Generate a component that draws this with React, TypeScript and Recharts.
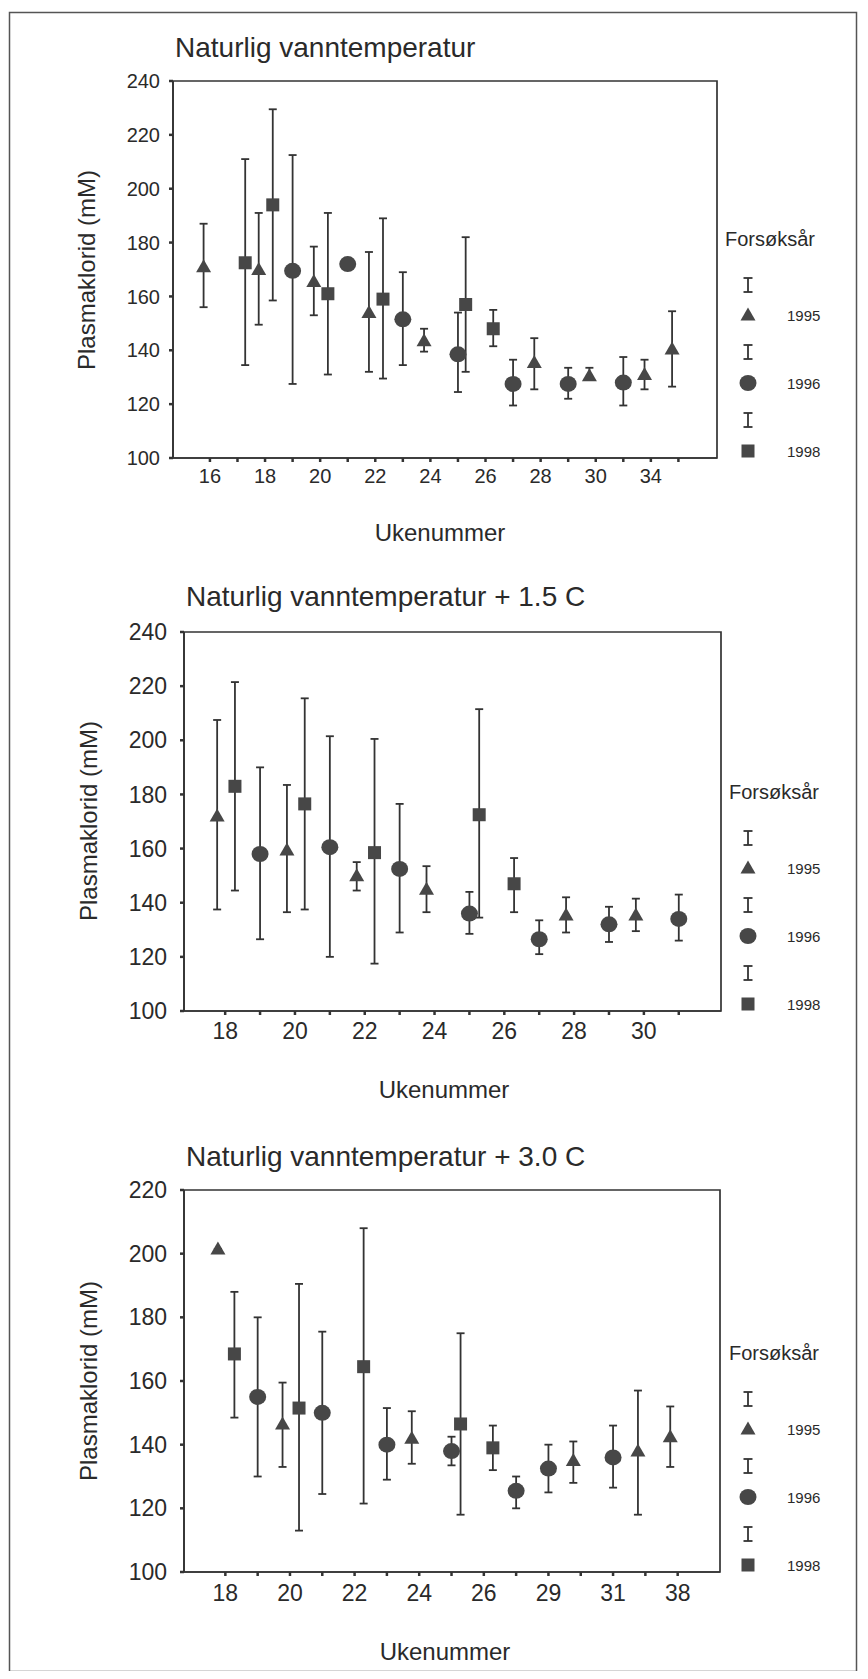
import { ScatterChart, Scatter, XAxis, YAxis, ErrorBar, ReferenceArea } from "recharts";

// ---- Panel 1: Naturlig vanntemperatur ----
const p1Weeks = ["16", "17", "18", "19", "20", "21", "22", "23", "24", "25", "26", "27", "28", "29", "30", "32", "34", "35"];
const p1Week1995 = ["16", "18", "20", "22", "24", "28", "30", "34", "35"];
const p1Mean1995 = [171, 170, 165.5, 154, 143.5, 135.5, 130.5, 131, 140.5];
const p1Low1995 = [156, 149.5, 153, 132, 139.5, 125.5, 129, 125.5, 126.5];
const p1High1995 = [187, 191, 178.5, 176.5, 148, 144.5, 133.5, 136.5, 154.5];
const p1Week1996 = ["19", "21", "23", "25", "27", "29", "32"];
const p1Mean1996 = [169.5, 172, 151.5, 138.5, 127.5, 127.5, 128];
const p1Low1996 = [127.5, 172, 134.5, 124.5, 119.5, 122, 119.5];
const p1High1996 = [212.5, 172, 169, 154, 136.5, 133.5, 137.5];
const p1Week1998 = ["17", "18", "20", "22", "25", "26"];
const p1Mean1998 = [172.5, 194, 161, 159, 157, 148];
const p1Low1998 = [134.5, 158.5, 131, 129.5, 132, 141.5];
const p1High1998 = [211, 229.5, 191, 189, 182, 155];

// ---- Panel 2: + 1.5 C ----
const p2Weeks = ["18", "19", "20", "21", "22", "23", "24", "25", "26", "27", "28", "29", "30", "31"];
const p2Week1995 = ["18", "20", "22", "24", "28", "30"];
const p2Mean1995 = [172, 159.5, 150, 145, 135.5, 135.5];
const p2Low1995 = [137.5, 136.5, 144.5, 136.5, 129, 129.5];
const p2High1995 = [207.5, 183.5, 155, 153.5, 142, 141.5];
const p2Week1996 = ["19", "21", "23", "25", "27", "29", "31"];
const p2Mean1996 = [158, 160.5, 152.5, 136, 126.5, 132, 134];
const p2Low1996 = [126.5, 120, 129, 128.5, 121, 125.5, 126];
const p2High1996 = [190, 201.5, 176.5, 144, 133.5, 138.5, 143];
const p2Week1998 = ["18", "20", "22", "25", "26"];
const p2Mean1998 = [183, 176.5, 158.5, 172.5, 147];
const p2Low1998 = [144.5, 137.5, 117.5, 134.5, 136.5];
const p2High1998 = [221.5, 215.5, 200.5, 211.5, 156.5];

// ---- Panel 3: + 3.0 C ----
const p3Weeks = ["18", "19", "20", "21", "22", "23", "24", "25", "26", "27", "29", "30", "31", "33", "38"];
const p3Week1995 = ["18", "20", "24", "30", "33", "38"];
const p3Mean1995 = [201.5, 146.5, 142, 135, 138, 142.5];
const p3Low1995 = [201.5, 133, 134, 128, 118, 133];
const p3High1995 = [201.5, 159.5, 150.5, 141, 157, 152];
const p3Week1996 = ["19", "21", "23", "25", "27", "29", "31"];
const p3Mean1996 = [155, 150, 140, 138, 125.5, 132.5, 136];
const p3Low1996 = [130, 124.5, 129, 133.5, 120, 125, 126.5];
const p3High1996 = [180, 175.5, 151.5, 142.5, 130, 140, 146];
const p3Week1998 = ["18", "20", "22", "25", "26"];
const p3Mean1998 = [168.5, 151.5, 164.5, 146.5, 139];
const p3Low1998 = [148.5, 113, 121.5, 118, 132];
const p3High1998 = [188, 190.5, 208, 175, 146];

const yTicks1 = [100, 120, 140, 160, 180, 200, 220, 240];
const yTicks3 = [100, 120, 140, 160, 180, 200, 220];
const years = ["1995", "1996", "1998"];

const INK = "#333";
const MARK = "#474747";
const FONT = "'Liberation Sans', Arial, Helvetica, sans-serif";

// clustered offset inside each week slot
const SHIFT = { "1995": -0.23, "1996": 0, "1998": 0.28 };

function series(weeks: string[], w: string[], mean: number[], low: number[], high: number[], shift: number) {
  return w.map((wk, i) => ({
    x: weeks.indexOf(wk) + shift,
    y: mean[i],
    err: [mean[i] - low[i], high[i] - mean[i]],
  }));
}

const Tri = (p: any) => (
  <polygon points={`${p.cx},${p.cy - 7.5} ${p.cx + 7.5},${p.cy + 5.5} ${p.cx - 7.5},${p.cy + 5.5}`} fill={MARK} />
);
const Dot = (p: any) => <ellipse cx={p.cx} cy={p.cy} rx={8.5} ry={8} fill={MARK} />;
const Sq = (p: any) => <rect x={p.cx - 6.5} y={p.cy - 6.5} width={13} height={13} fill={MARK} />;

type Panel = {
  title: string;
  weeks: string[];
  sets: any[][];
  yDomain: [number, number];
  yTicks: number[];
  plot: { left: number; right: number; top: number; bottom: number };
  xDomain: [number, number];
  tickFont: number;
  yTickMargin: number;
  xTickMargin: number;
  titleAt: [number, number];
  yLabelAt: [number, number];
  xLabelAt: [number, number];
  legendX: number;
};

const panels: Panel[] = [
  {
    title: "Naturlig vanntemperatur",
    weeks: p1Weeks,
    sets: [
      series(p1Weeks, p1Week1995, p1Mean1995, p1Low1995, p1High1995, SHIFT["1995"]),
      series(p1Weeks, p1Week1996, p1Mean1996, p1Low1996, p1High1996, SHIFT["1996"]),
      series(p1Weeks, p1Week1998, p1Mean1998, p1Low1998, p1High1998, SHIFT["1998"]),
    ],
    yDomain: [100, 240],
    yTicks: yTicks1,
    plot: { left: 173, right: 717, top: 81, bottom: 458 },
    xDomain: [-1.34, 18.4],
    tickFont: 20,
    yTickMargin: 9,
    xTickMargin: 7,
    titleAt: [175, 57],
    yLabelAt: [86, 270],
    xLabelAt: [440, 541],
    legendX: 725,
  },
  {
    title: "Naturlig vanntemperatur + 1.5 C",
    weeks: p2Weeks,
    sets: [
      series(p2Weeks, p2Week1995, p2Mean1995, p2Low1995, p2High1995, SHIFT["1995"]),
      series(p2Weeks, p2Week1996, p2Mean1996, p2Low1996, p2High1996, SHIFT["1996"]),
      series(p2Weeks, p2Week1998, p2Mean1998, p2Low1998, p2High1998, SHIFT["1998"]),
    ],
    yDomain: [100, 240],
    yTicks: yTicks1,
    plot: { left: 184, right: 721, top: 632, bottom: 1011 },
    xDomain: [-1.18, 14.21],
    tickFont: 23,
    yTickMargin: 13,
    xTickMargin: 8,
    titleAt: [186, 606],
    yLabelAt: [88, 821],
    xLabelAt: [444, 1098],
    legendX: 729,
  },
  {
    title: "Naturlig vanntemperatur + 3.0 C",
    weeks: p3Weeks,
    sets: [
      series(p3Weeks, p3Week1995, p3Mean1995, p3Low1995, p3High1995, SHIFT["1995"]),
      series(p3Weeks, p3Week1996, p3Mean1996, p3Low1996, p3High1996, SHIFT["1996"]),
      series(p3Weeks, p3Week1998, p3Mean1998, p3Low1998, p3High1998, SHIFT["1998"]),
    ],
    yDomain: [100, 220],
    yTicks: yTicks3,
    plot: { left: 184, right: 720, top: 1190, bottom: 1572 },
    xDomain: [-1.28, 15.31],
    tickFont: 23,
    yTickMargin: 13,
    xTickMargin: 9,
    titleAt: [186, 1166],
    yLabelAt: [88, 1381],
    xLabelAt: [445, 1660],
    legendX: 729,
  },
];

const shapes = [Tri, Dot, Sq];

const ErrIcon = ({ x, y }: { x: number; y: number }) => (
  <g stroke={INK} strokeWidth={1.8}>
    <line x1={x} y1={y - 7} x2={x} y2={y + 7} />
    <line x1={x - 4.5} y1={y - 7} x2={x + 4.5} y2={y - 7} />
    <line x1={x - 4.5} y1={y + 7} x2={x + 4.5} y2={y + 7} />
  </g>
);

function PanelChart({ p }: { p: Panel }) {
  const yAxisW = 60;
  const top = 24;
  const plotH = p.plot.bottom - p.plot.top;
  const margin = { top, right: 868 - p.plot.right, left: p.plot.left - 8 - yAxisW, bottom: 10 };
  const height = top + plotH + 40 + 10;
  const xTicks = p.weeks.map((_, i) => i);
  return (
    <div style={{ position: "absolute", left: 0, top: p.plot.top - top - 8 }}>
      <ScatterChart width={860} height={height} margin={margin}>
        <XAxis
          type="number"
          dataKey="x"
          domain={p.xDomain}
          ticks={xTicks}
          interval={0}
          allowDataOverflow
          tickFormatter={(v: number) => (v % 2 === 0 ? p.weeks[v] : "")}
          tickSize={4}
          tickMargin={p.xTickMargin}
          height={40}
          axisLine={{ stroke: INK, strokeWidth: 1.7 }}
          tickLine={{ stroke: INK, strokeWidth: 2.5 }}
          tick={{ fontSize: p.tickFont, fill: "#2a2a2a", fontFamily: FONT }}
        />
        <YAxis
          type="number"
          dataKey="y"
          domain={p.yDomain}
          ticks={p.yTicks}
          interval={0}
          allowDataOverflow
          width={yAxisW}
          tickSize={4}
          tickMargin={p.yTickMargin}
          axisLine={{ stroke: INK, strokeWidth: 1.7 }}
          tickLine={{ stroke: INK, strokeWidth: 2.5 }}
          tick={{ fontSize: p.tickFont, fill: "#2a2a2a", fontFamily: FONT }}
        />
        <ReferenceArea
          x1={p.xDomain[0]}
          x2={p.xDomain[1]}
          y1={p.yDomain[0]}
          y2={p.yDomain[1]}
          fill="none"
          fillOpacity={0}
          stroke={INK}
          strokeWidth={1.7}
          ifOverflow="visible"
        />
        {p.sets.map((d, i) => (
          <Scatter key={years[i]} name={years[i]} data={d} shape={shapes[i]} isAnimationActive={false}>
            <ErrorBar dataKey="err" direction="y" width={4} stroke={INK} strokeWidth={1.8} />
          </Scatter>
        ))}
      </ScatterChart>
    </div>
  );
}

function Overlay() {
  return (
    <svg
      width={868}
      height={1679}
      style={{ position: "absolute", left: -8, top: -8, pointerEvents: "none" }}
      fontFamily={FONT}
    >
      <rect x={9.5} y={12.5} width={847} height={1659} fill="none" stroke="#555" strokeWidth={1.5} />
      {panels.map((p, k) => {
        const b = p.plot.bottom;
        const ix = 748;
        const lx = 787;
        return (
          <g key={k} fill="#2a2a2a">
            <text x={p.titleAt[0]} y={p.titleAt[1]} fontSize={28}>
              {p.title}
            </text>
            <text
              x={p.yLabelAt[0]}
              y={p.yLabelAt[1]}
              fontSize={24}
              textAnchor="middle"
              dominantBaseline="central"
              transform={`rotate(-90 ${p.yLabelAt[0]} ${p.yLabelAt[1]})`}
            >
              Plasmaklorid (mM)
            </text>
            <text x={p.xLabelAt[0]} y={p.xLabelAt[1]} fontSize={24} textAnchor="middle">
              Ukenummer
            </text>
            <text x={p.legendX} y={b - 219} fontSize={20} dominantBaseline="central">
              Forsøksår
            </text>
            <ErrIcon x={ix} y={b - 173} />
            <Tri cx={ix} cy={b - 143} />
            <text x={lx} y={b - 143} fontSize={15} dominantBaseline="central">
              {years[0]}
            </text>
            <ErrIcon x={ix} y={b - 106} />
            <Dot cx={ix} cy={b - 75} />
            <text x={lx} y={b - 75} fontSize={15} dominantBaseline="central">
              {years[1]}
            </text>
            <ErrIcon x={ix} y={b - 38} />
            <Sq cx={ix} cy={b - 7} />
            <text x={lx} y={b - 7} fontSize={15} dominantBaseline="central">
              {years[2]}
            </text>
          </g>
        );
      })}
    </svg>
  );
}

export default function App() {
  return (
    <div style={{ position: "relative", width: 852, height: 1663, background: "#fff" }}>
      {panels.map((p, i) => (
        <PanelChart key={i} p={p} />
      ))}
      <Overlay />
    </div>
  );
}
